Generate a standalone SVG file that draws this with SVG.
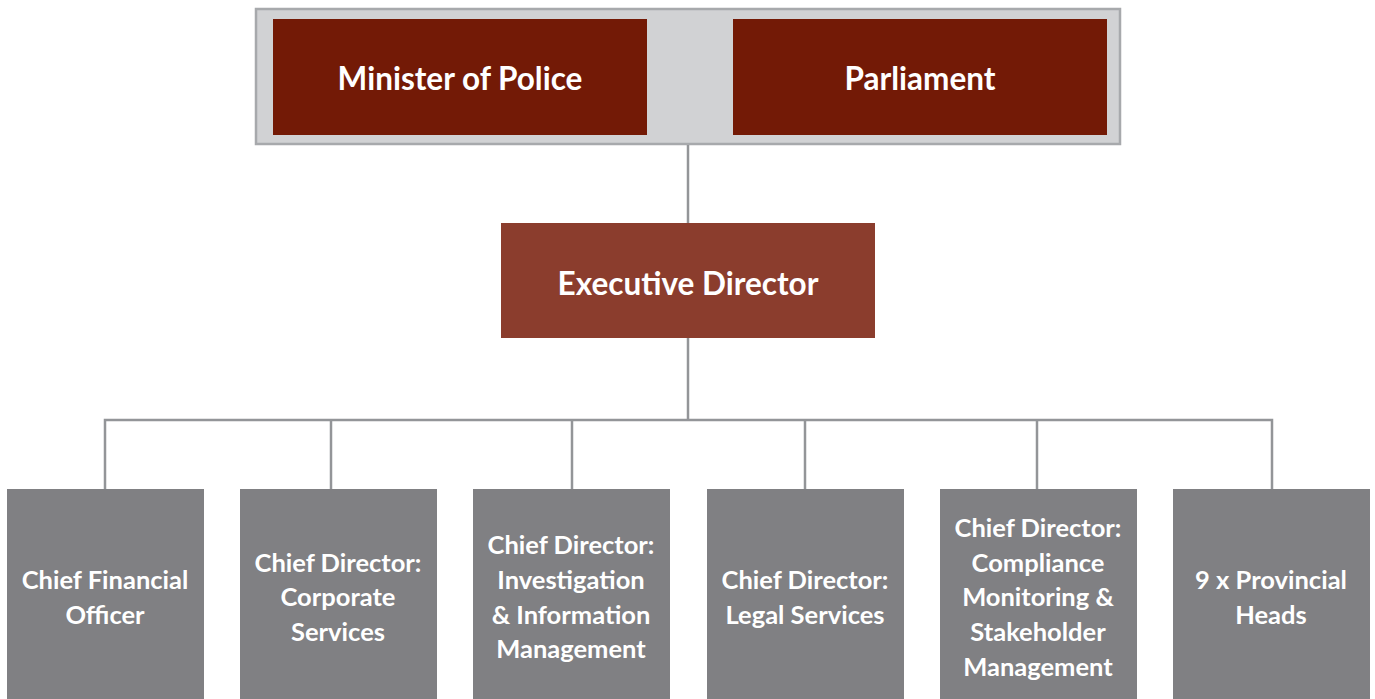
<svg xmlns="http://www.w3.org/2000/svg" width="1375" height="699" viewBox="0 0 1375 699">
<style>
.top{fill:#731a06}
.exec{fill:#8b3d2d}
.unit{fill:#808083}
.t{font-family:Lato,"Liberation Sans",sans-serif;font-weight:700;fill:#ffffff;text-anchor:middle}
.big{font-size:31.5px}
.sm{font-size:25.5px}
.conn{stroke:#939598;stroke-width:2.5;fill:none}
</style>
<rect width="1375" height="699" fill="#ffffff"/>
<g id="oversight">
<rect x="256" y="9" width="864" height="135" fill="#d1d2d4" stroke="#a7a9ac" stroke-width="2.5"/>
</g>
<g id="minister">
<rect class="top" x="273" y="19" width="374" height="116"/>
<text class="t big" x="460" y="90">Minister of Police</text>
</g>
<g id="parliament">
<rect class="top" x="733" y="19" width="374" height="116"/>
<text class="t big" x="920" y="90">Parliament</text>
</g>
<g id="connectors">
<line class="conn" x1="688" y1="145" x2="688" y2="223"/>
<line class="conn" x1="688" y1="338" x2="688" y2="420"/>
<polyline class="conn" points="105,489 105,420 1272,420 1272,489"/>
<line class="conn" x1="331" y1="420" x2="331" y2="489"/>
<line class="conn" x1="572" y1="420" x2="572" y2="489"/>
<line class="conn" x1="805" y1="420" x2="805" y2="489"/>
<line class="conn" x1="1037" y1="420" x2="1037" y2="489"/>
</g>
<g id="executive">
<rect class="exec" x="501" y="223" width="374" height="115"/>
<text class="t big" x="688" y="295">Executive Director</text>
</g>
<g id="cfo">
<rect class="unit" x="7" y="489" width="197" height="210"/>
<text class="t sm" x="105" y="589">Chief Financial</text>
<text class="t sm" x="105" y="624">Officer</text>
</g>
<g id="corporate">
<rect class="unit" x="240" y="489" width="197" height="210"/>
<text class="t sm" x="338" y="572">Chief Director:</text>
<text class="t sm" x="338" y="606">Corporate</text>
<text class="t sm" x="338" y="641">Services</text>
</g>
<g id="investigation">
<rect class="unit" x="473" y="489" width="197" height="210"/>
<text class="t sm" x="571" y="554">Chief Director:</text>
<text class="t sm" x="571" y="589">Investigation</text>
<text class="t sm" x="571" y="624">&amp; Information</text>
<text class="t sm" x="571" y="658">Management</text>
</g>
<g id="legal">
<rect class="unit" x="707" y="489" width="197" height="210"/>
<text class="t sm" x="805" y="589">Chief Director:</text>
<text class="t sm" x="805" y="624">Legal Services</text>
</g>
<g id="compliance">
<rect class="unit" x="940" y="489" width="197" height="210"/>
<text class="t sm" x="1038" y="537">Chief Director:</text>
<text class="t sm" x="1038" y="572">Compliance</text>
<text class="t sm" x="1038" y="606">Monitoring &amp;</text>
<text class="t sm" x="1038" y="641">Stakeholder</text>
<text class="t sm" x="1038" y="676">Management</text>
</g>
<g id="provincial">
<rect class="unit" x="1173" y="489" width="197" height="210"/>
<text class="t sm" x="1271" y="589">9 x Provincial</text>
<text class="t sm" x="1271" y="624">Heads</text>
</g>
</svg>
